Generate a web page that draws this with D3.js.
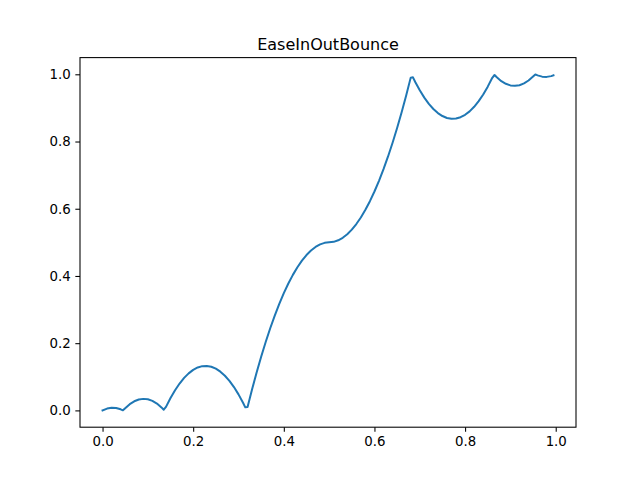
<!DOCTYPE html>
<html>
<head>
<meta charset="utf-8">
<script src="https://cdn.jsdelivr.net/npm/d3@7"></script>
<style>
  body { margin: 0; background: #fff; }
  svg { display: block; font-family: "DejaVu Sans", sans-serif; }
</style>
</head>
<body>
<svg id="chart" width="640" height="480"></svg>
<script>
var title = "EaseInOutBounce";

var xValues = [
  0.00, 0.01, 0.02, 0.03, 0.04, 0.045, 0.05, 0.06, 0.07, 0.08, 0.09,
  0.10, 0.11, 0.12, 0.13, 0.135, 0.14, 0.15, 0.16, 0.17, 0.18, 0.19,
  0.20, 0.21, 0.22, 0.23, 0.24, 0.25, 0.26, 0.27, 0.28, 0.29,
  0.30, 0.31, 0.315, 0.32, 0.33, 0.34, 0.35, 0.36, 0.37, 0.38, 0.39,
  0.40, 0.41, 0.42, 0.43, 0.44, 0.45, 0.46, 0.47, 0.48, 0.49,
  0.50, 0.51, 0.52, 0.53, 0.54, 0.55, 0.56, 0.57, 0.58, 0.59,
  0.60, 0.61, 0.62, 0.63, 0.64, 0.65, 0.66, 0.67, 0.68, 0.685, 0.69,
  0.70, 0.71, 0.72, 0.73, 0.74, 0.75, 0.76, 0.77, 0.78, 0.79,
  0.80, 0.81, 0.82, 0.83, 0.84, 0.85, 0.86, 0.865, 0.87, 0.88, 0.89,
  0.90, 0.91, 0.92, 0.93, 0.94, 0.95, 0.955, 0.96, 0.97, 0.98, 0.99, 0.995
];

var yValues = [
  0.0000, 0.0054, 0.0077, 0.0070, 0.0033, 0.0003, 0.0065, 0.0185, 0.0271, 0.0325, 0.0343,
  0.0330, 0.0283, 0.0204, 0.0089, 0.0021, 0.0104, 0.0368, 0.0600, 0.0799, 0.0967, 0.1102,
  0.1206, 0.1277, 0.1317, 0.1324, 0.1300, 0.1242, 0.1153, 0.1032, 0.0880, 0.0694,
  0.0477, 0.0228, 0.0091, 0.0100, 0.0629, 0.1128, 0.1597, 0.2036, 0.2444, 0.2822, 0.3170,
  0.3488, 0.3775, 0.4032, 0.4259, 0.4456, 0.4622, 0.4758, 0.4864, 0.4940, 0.4985,
  0.5000, 0.5015, 0.5061, 0.5136, 0.5242, 0.5378, 0.5545, 0.5741, 0.5968, 0.6225,
  0.6513, 0.6830, 0.7178, 0.7556, 0.7965, 0.8403, 0.8872, 0.9371, 0.9901, 0.9909, 0.9772,
  0.9523, 0.9306, 0.9120, 0.8968, 0.8847, 0.8758, 0.8700, 0.8676, 0.8683, 0.8723,
  0.8794, 0.8898, 0.9033, 0.9201, 0.9400, 0.9632, 0.9896, 0.9979, 0.9911, 0.9796, 0.9717,
  0.9670, 0.9657, 0.9675, 0.9729, 0.9815, 0.9935, 0.9997, 0.9967, 0.9930, 0.9923, 0.9946, 0.9969
];

var xTicks = [0.0, 0.2, 0.4, 0.6, 0.8, 1.0];
var yTicks = [0.0, 0.2, 0.4, 0.6, 0.8, 1.0];

var margin = {top: 57.6, right: 64, bottom: 52.8, left: 80};
var svg = d3.select("#chart");
var width = +svg.attr("width") - margin.left - margin.right;
var height = +svg.attr("height") - margin.top - margin.bottom;

var data = xValues.map(function(x, i){ return {x: x, y: yValues[i]}; });

function padded(ext){
  var pad = (ext[1] - ext[0]) * 0.05;
  return [ext[0] - pad, ext[1] + pad];
}

var x = d3.scaleLinear().domain(padded(d3.extent(xValues))).range([0, width]);
var y = d3.scaleLinear().domain(padded(d3.extent(yValues))).range([height, 0]);

var g = svg.append("g")
  .attr("transform", "translate(" + margin.left + "," + margin.top + ")");

var tick = 3.5 * 96 / 72;
var fmt = d3.format(".1f");

var xAxis = g.append("g")
  .attr("transform", "translate(0," + height + ")")
  .call(d3.axisBottom(x).tickValues(xTicks).tickFormat(fmt).tickSize(tick).tickPadding(tick));

var yAxis = g.append("g")
  .call(d3.axisLeft(y).tickValues(yTicks).tickFormat(fmt).tickSize(tick).tickPadding(tick));

[xAxis, yAxis].forEach(function(a){
  a.select(".domain").remove();
  a.selectAll("line").attr("stroke", "#000").attr("stroke-width", 0.8 * 96 / 72);
  a.selectAll("text")
    .attr("fill", "#000")
    .style("font-family", "'DejaVu Sans', sans-serif")
    .style("font-size", "13.33px");
});

g.append("path")
  .datum(data)
  .attr("fill", "none")
  .attr("stroke", "#1f77b4")
  .attr("stroke-width", 2)
  .attr("stroke-linejoin", "round")
  .attr("stroke-linecap", "square")
  .attr("d", d3.line().x(function(d){ return x(d.x); }).y(function(d){ return y(d.y); }));

g.append("rect")
  .attr("width", width)
  .attr("height", height)
  .attr("fill", "none")
  .attr("stroke", "#000")
  .attr("stroke-width", 0.8 * 96 / 72)
  .attr("stroke-linejoin", "miter");

g.append("text")
  .attr("x", width / 2)
  .attr("y", -8)
  .attr("text-anchor", "middle")
  .style("font-size", "16px")
  .text(title);
</script>
</body>
</html>
